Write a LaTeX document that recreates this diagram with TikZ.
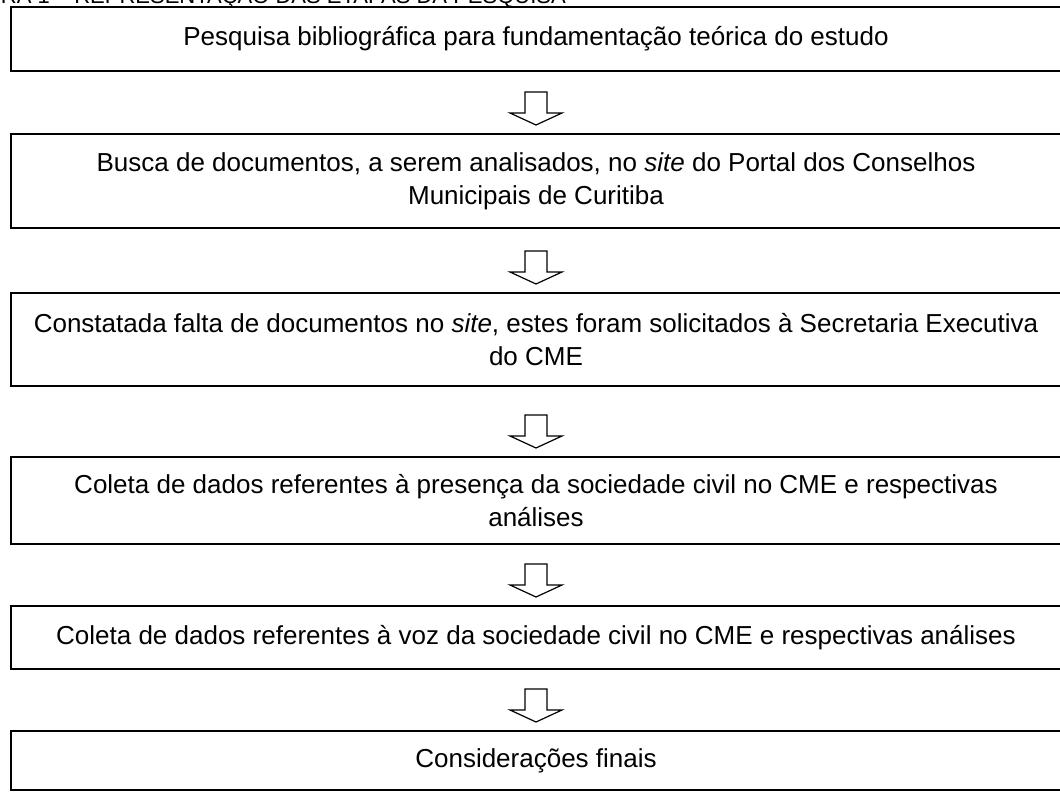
\documentclass[tikz,border=0pt]{standalone}
\usepackage{fontspec}
\setmainfont{Liberation Sans}
\usetikzlibrary{calc}

\begin{document}
\begin{tikzpicture}[x=0.5pt,y=-0.5pt]
      %use to draw the hollow arrow above a box
      \tikzset{
      blockarrow/.style={
        line width=0.6pt,
        to path={%
        ($(\tikztotarget.north)+(0,-9)$) -- ++(-26,-12) -- ++(15,0) -- ++(0,-21)
        -- ++(22,0) -- ++(0,21) -- ++(15,0) -- cycle}
      },
      stage/.style={draw, line width=1pt, inner sep=0pt, outer sep=0pt,
        minimum width=525pt, align=center,
        font=\fontsize{13}{16.5}\selectfont},
      }
      \useasboundingbox (0,0) rectangle (1060,792);

      %caption, cut at the top
      \node[anchor=base west, inner sep=0pt, font=\fontsize{11}{13}\selectfont] (cap) at (-52,4)
        {FIGURA 1 -- REPRESENTAÇÃO DAS ETAPAS DA PESQUISA};

      %Stage 1
      \node[stage, minimum height=32pt] (b1) at (536,39)
        {Pesquisa bibliográfica para fundamentação teórica do estudo};
      %Stage 2
      \node[stage, minimum height=47pt] (b2) at (536,181)
        {Busca de documentos, a serem analisados, no \textit{site} do Portal dos Conselhos\\Municipais de Curitiba};
      %Stage 3
      \node[stage, minimum height=46.5pt] (b3) at (536,339.5)
        {Constatada falta de documentos no \textit{site}, estes foram solicitados à Secretaria Executiva\\do CME};
      %Stage 4
      \node[stage, minimum height=43.5pt] (b4) at (536,500.5)
        {Coleta de dados referentes à presença da sociedade civil no CME e respectivas\\análises};
      %Stage 5
      \node[stage, minimum height=31.5pt] (b5) at (536,637.5)
        {Coleta de dados referentes à voz da sociedade civil no CME e respectivas análises};
      %Stage 6
      \node[stage, minimum height=29.5pt] (b6) at (536,760.5)
        {Considerações finais};

      %arrows
      \draw[blockarrow] (b1) to (b2);
      \draw[blockarrow] (b2) to (b3);
      \draw[blockarrow] (b3) to (b4);
      \draw[blockarrow] (b4) to (b5);
      \draw[blockarrow] (b5) to (b6);
\end{tikzpicture}
\end{document}
